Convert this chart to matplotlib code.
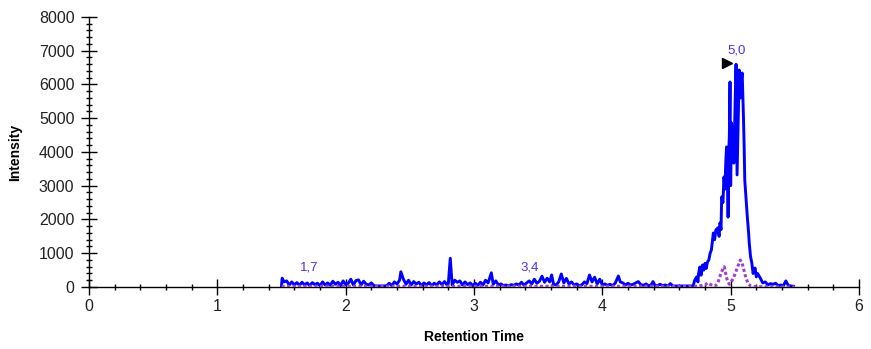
import matplotlib
matplotlib.use("Agg")
import matplotlib.pyplot as plt
from matplotlib.ticker import MultipleLocator

plt.rcParams['font.family'] = ['Liberation Sans', 'DejaVu Sans']

# Blue trace (retention time, intensity)
blue_time = [1.50, 1.505, 1.52, 1.54, 1.56, 1.58, 1.60, 1.62, 1.64, 1.66, 1.68, 1.70, 1.72, 1.74,
             1.76, 1.78, 1.80, 1.82, 1.84, 1.86, 1.88, 1.90, 1.92, 1.94, 1.96, 1.98, 2.00, 2.02,
             2.04, 2.06, 2.08, 2.10, 2.12, 2.14, 2.16, 2.18, 2.20, 2.22, 2.24, 2.30, 2.32, 2.34,
             2.36, 2.38, 2.40, 2.42, 2.43, 2.45, 2.47, 2.49, 2.51, 2.53, 2.55, 2.57, 2.59, 2.61,
             2.63, 2.65, 2.67, 2.69, 2.71, 2.73, 2.75, 2.77, 2.79, 2.80, 2.815, 2.83, 2.85, 2.87,
             2.89, 2.91, 2.93, 2.95, 2.97, 2.99, 3.01, 3.03, 3.05, 3.07, 3.09, 3.11, 3.135, 3.15,
             3.17, 3.19, 3.21, 3.23, 3.25, 3.27, 3.29, 3.31, 3.33, 3.35, 3.37, 3.39, 3.41, 3.43,
             3.45, 3.47, 3.49, 3.51, 3.53, 3.55, 3.57, 3.59, 3.605, 3.62, 3.64, 3.66, 3.68, 3.70,
             3.72, 3.74, 3.76, 3.78, 3.80, 3.82, 3.84, 3.86, 3.88, 3.90, 3.92, 3.94, 3.96, 3.98,
             4.00, 4.02, 4.04, 4.06, 4.08, 4.10, 4.125, 4.14, 4.16, 4.18, 4.20, 4.22, 4.24, 4.26,
             4.28, 4.30, 4.32, 4.34, 4.36, 4.38, 4.395, 4.41, 4.43, 4.45, 4.47, 4.49, 4.51, 4.53,
             4.55, 4.70, 4.71, 4.72, 4.735, 4.745, 4.75, 4.76, 4.77, 4.78, 4.79, 4.80, 4.81, 4.82,
             4.83, 4.84, 4.85, 4.865, 4.875, 4.885, 4.90, 4.91, 4.917, 4.925, 4.93, 4.94, 4.948,
             4.955, 4.962, 4.968, 4.975, 4.98, 4.985, 4.99, 4.995, 5.00, 5.007, 5.015, 5.025,
             5.035, 5.042, 5.05, 5.06, 5.067, 5.075, 5.085, 5.09, 5.10, 5.105, 5.11, 5.12, 5.13,
             5.14, 5.145, 5.155, 5.165, 5.175, 5.19, 5.20, 5.21, 5.23, 5.25, 5.27,
             5.29, 5.31, 5.33, 5.35, 5.37, 5.39, 5.41, 5.43, 5.45, 5.47, 5.49]
blue_intensity = [40, 260, 150, 180, 60, 150, 60, 130, 50, 140, 60, 120, 40, 130,
                  70, 110, 40, 150, 60, 120, 50, 170, 80, 140, 40, 180, 70, 110,
                  230, 60, 190, 210, 60, 170, 80, 60, 120, 40, 30, 30, 40, 110,
                  40, 150, 90, 200, 450, 230, 80, 200, 60, 160, 90, 140, 40, 120,
                  60, 130, 40, 110, 60, 150, 70, 160, 60, 100, 850, 60, 200, 140,
                  180, 60, 150, 70, 120, 40, 110, 50, 140, 60, 200, 120, 420, 80,
                  180, 60, 90, 40, 60, 30, 70, 50, 90, 60, 140, 50, 120, 180,
                  90, 230, 110, 170, 320, 140, 260, 150, 355, 80, 60, 150, 385, 120,
                  255, 90, 150, 60, 90, 40, 60, 150, 100, 355, 150, 290, 90, 230,
                  60, 90, 50, 80, 40, 110, 325, 150, 120, 60, 110, 60, 80, 120,
                  160, 70, 50, 90, 40, 60, 160, 50, 40, 80, 40, 60, 30, 100,
                  30, 30, 60, 200, 300, 150, 400, 590, 350, 650, 500, 700, 550, 750,
                  800, 1000, 1100, 1600, 1400, 1690, 1750, 1500, 1900, 1700, 2670, 2500, 3260,
                  2900, 3700, 4150, 3500, 2070, 4000, 4500, 6075, 3000, 4860, 4200, 3670,
                  5500, 6600, 3320, 5200, 6430, 5600, 6200, 6340, 5000, 4200, 3170, 2600, 2070,
                  1600, 1300, 900, 710, 400, 560, 300, 400, 270, 120, 150,
                  60, 100, 80, 110, 40, 60, 30, 180, 40, 30, 20]

# Purple dotted trace
purple_time = [1.50, 2.00, 2.50, 3.00, 3.50, 4.00, 4.50, 4.70, 4.75, 4.80, 4.82, 4.84, 4.86,
               4.88, 4.90, 4.92, 4.935, 4.95, 4.96, 4.97, 4.98, 4.99, 5.00, 5.02, 5.04, 5.06,
               5.075, 5.09, 5.10, 5.12, 5.14, 5.16, 5.20, 5.50]
purple_intensity = [20, 20, 20, 20, 20, 20, 20, 10, 30, 60, 120, 80, 40,
                    30, 120, 350, 500, 600, 420, 250, 150, 80, 120, 250, 450, 650,
                    800, 700, 550, 250, 80, 20, 10, 0]

peak_labels = ["1,7", "3,4", "5,0"]
peak_label_x = [1.715, 3.43, 5.05]
peak_label_y = [580, 580, 7020]
marker_x = [4.97]
marker_y = [6650]

x_ticks = [0, 1, 2, 3, 4, 5, 6]
y_ticks = [0, 1000, 2000, 3000, 4000, 5000, 6000, 7000, 8000]

fig = plt.figure(figsize=(8.71, 3.49), dpi=100)
ax = fig.add_axes([0.1022, 0.1777, 0.884, 0.7736])

ax.plot(purple_time, purple_intensity, color='#A040D0', linestyle=(0, (1, 0.8)),
        linewidth=2.2, zorder=3)
ax.plot(blue_time, blue_intensity, color='#0000FF', linewidth=2.1, zorder=2)
ax.plot(marker_x, marker_y, marker='>', color='black', markersize=6.5, linestyle='none', zorder=4)

for lbl, lx, ly in zip(peak_labels, peak_label_x, peak_label_y):
    ax.text(lx, ly, lbl, color='#4B30E8', fontsize=9.5, ha='center', va='center')

ax.set_xlim(0, 6)
ax.set_ylim(0, 8000)
ax.set_xticks(x_ticks)
ax.set_yticks(y_ticks)
ax.xaxis.set_minor_locator(MultipleLocator(0.2))
ax.yaxis.set_minor_locator(MultipleLocator(200))
ax.tick_params(axis='both', which='major', direction='inout', length=11, width=1,
               labelsize=11.5, colors='black', labelcolor='#222222')
ax.tick_params(axis='both', which='minor', direction='inout', length=5, width=1, colors='black')
ax.tick_params(axis='y', which='major', pad=5)
ax.tick_params(axis='x', which='major', pad=3)

for s in ['top', 'right']:
    ax.spines[s].set_visible(False)
for s in ['left', 'bottom']:
    ax.spines[s].set_linewidth(1)
    ax.spines[s].set_color('black')

ax.set_xlabel('Retention Time', fontsize=10, fontweight='bold', labelpad=12)
ax.set_ylabel('Intensity', fontsize=10, fontweight='bold', labelpad=12)

fig.savefig('out.png', dpi=100)
